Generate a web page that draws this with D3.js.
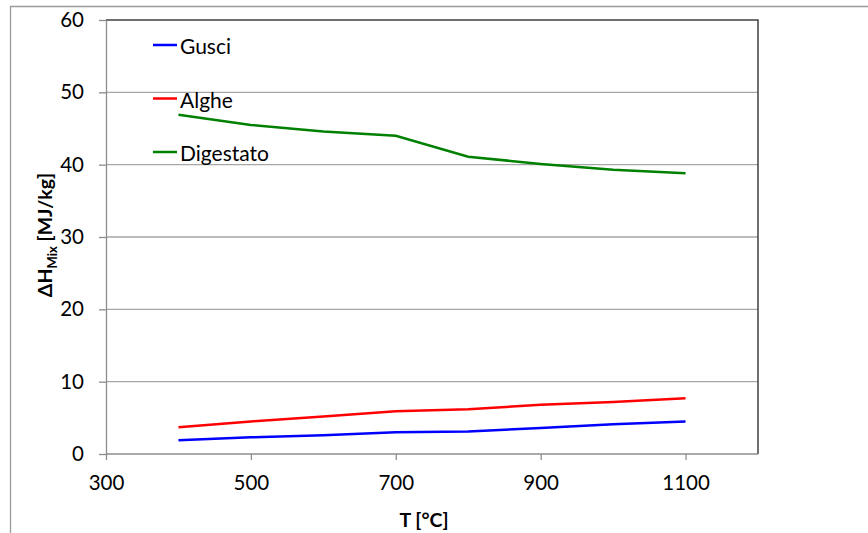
<!DOCTYPE html>
<meta charset="utf-8">
<style>

  body {
    margin: 0;
    background: #fff;
  }

  svg {
    font-family: Lato, "Open Sans", sans-serif;
  }

  .grid line {
    stroke: #a6a6a6;
    stroke-width: 1.3px;
  }

  .axis path,
  .axis line {
    fill: none;
    stroke: #8c8c8c;
    stroke-width: 1.3px;
  }

  .axis text {
    font-size: 20.5px;
    fill: #000;
  }

  .line {
    fill: none;
    stroke-width: 2.5px;
  }

</style>
<body>
<script src="https://cdn.jsdelivr.net/npm/d3@7"></script>
<script>

  var temps = [400, 500, 600, 700, 800, 900, 1000, 1100];
  var gusci = [1.9, 2.3, 2.6, 3.0, 3.1, 3.6, 4.1, 4.5];
  var alghe = [3.7, 4.5, 5.2, 5.9, 6.2, 6.8, 7.2, 7.7];
  var digestato = [46.9, 45.5, 44.6, 44.0, 41.1, 40.1, 39.3, 38.8];

  var seriesNames = ["Gusci", "Alghe", "Digestato"];
  var seriesColors = ["#0000ff", "#ff0000", "#008000"];
  var xTicks = [300, 500, 700, 900, 1100];
  var yTicks = [0, 10, 20, 30, 40, 50, 60];

  var series = [gusci, alghe, digestato];

  var width = 868, height = 533;
  var plot = {left: 106, right: 758, top: 20, bottom: 454};

  var svg = d3.select("body").append("svg")
    .attr("width", width)
    .attr("height", height);

  // Outer chart border (only top and left show in the frame).
  svg.append("path")
    .attr("d", "M10.5," + height + "V6.5H" + width)
    .attr("fill", "none")
    .attr("stroke", "#9a9a9a")
    .attr("stroke-width", 1.3);

  var x = d3.scaleLinear()
    .domain([300, 1200])
    .range([plot.left, plot.right]);

  var y = d3.scaleLinear()
    .domain([0, 60])
    .range([plot.bottom, plot.top]);

  // Horizontal gridlines.
  svg.append("g")
    .attr("class", "grid")
    .selectAll("line")
    .data(yTicks.filter(function(d) { return d > 0 && d < 60; }))
    .enter().append("line")
    .attr("x1", plot.left)
    .attr("x2", plot.right)
    .attr("y1", function(d) { return y(d); })
    .attr("y2", function(d) { return y(d); });

  // Plot frame: top and right darker.
  svg.append("path")
    .attr("d", "M" + plot.left + "," + plot.top + "H" + plot.right + "V" + plot.bottom)
    .attr("fill", "none")
    .attr("stroke", "#404040")
    .attr("stroke-width", 1.5);

  // Bottom axis.
  var xAxis = svg.append("g")
    .attr("class", "axis axis--x")
    .attr("transform", "translate(0," + plot.bottom + ")")
    .call(d3.axisBottom(x).tickValues(xTicks).tickFormat(d3.format("d"))
      .tickSize(6).tickPadding(15).tickSizeOuter(0));
  xAxis.select(".domain").attr("d", "M" + plot.left + ",0H" + plot.right);

  // Left axis.
  svg.append("g")
    .attr("class", "axis axis--y")
    .attr("transform", "translate(" + plot.left + ",0)")
    .call(d3.axisLeft(y).tickValues(yTicks).tickSize(7).tickPadding(15).tickSizeOuter(0));

  svg.selectAll(".axis").attr("font-family", null).attr("font-size", null);

  // Axis titles.
  svg.append("text")
    .attr("x", 424)
    .attr("y", 527)
    .attr("text-anchor", "middle")
    .attr("font-size", 19.5)
    .attr("font-weight", "bold")
    .text("T [°C]");

  var yTitle = svg.append("text")
    .attr("transform", "translate(52,235) rotate(-90)")
    .attr("text-anchor", "middle")
    .attr("font-size", 19.5)
    .attr("font-weight", "bold");
  yTitle.append("tspan").text("ΔH");
  yTitle.append("tspan").attr("font-size", 13).attr("dy", 5).text("Mix");
  yTitle.append("tspan").attr("dy", -5).text(" [MJ/kg]");

  // Lines.
  var line = d3.line()
    .x(function(d, i) { return x(temps[i]); })
    .y(function(d) { return y(d); });

  svg.selectAll(".line")
    .data(series)
    .enter().append("path")
    .attr("class", "line")
    .attr("stroke", function(d, i) { return seriesColors[i]; })
    .attr("d", line);

  // Legend.
  var legend = svg.selectAll(".legend")
    .data(seriesNames)
    .enter().append("g")
    .attr("class", "legend")
    .attr("transform", function(d, i) { return "translate(153," + (45 + i * 53.5) + ")"; });

  legend.append("line")
    .attr("x2", 24)
    .attr("stroke", function(d, i) { return seriesColors[i]; })
    .attr("stroke-width", 2.5);

  legend.append("text")
    .attr("x", 27)
    .attr("y", 9)
    .attr("font-size", 21)
    .text(function(d) { return d; });

</script>
